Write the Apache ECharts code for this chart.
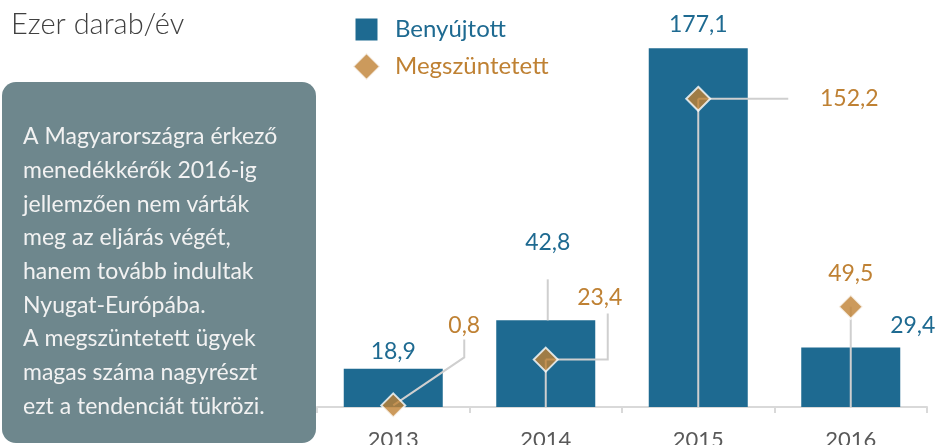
<!DOCTYPE html>
<html>
<head>
<meta charset="utf-8">
<script src="https://cdn.jsdelivr.net/npm/echarts@6/dist/echarts.min.js"></script>
<style>
  html, body { margin: 0; padding: 0; background: #fff; }
  #chart { width: 939px; height: 445px; }
</style>
</head>
<body>
<div id="chart"></div>
<script>
const years = ["2013", "2014", "2015", "2016"];
const benyujtott = [18.9, 42.8, 177.1, 29.4];
const megszuntetett = [0.8, 23.4, 152.2, 49.5];
const noteLines = [
  "A Magyarországra érkező",
  "menedékkérők 2016-ig",
  "jellemzően nem várták",
  "meg az eljárás végét,",
  "hanem tovább indultak",
  "Nyugat-Európába.",
  "A megszüntetett ügyek",
  "magas száma nagyrészt",
  "ezt a tendenciát tükrözi."
];

// label placement (pixels, relative to bar top / diamond centre)
const barLabelPos = [[0, -17], [2, -78], [0, -24], [62, -22]];
const barLeaders = [null, [[2, 0], [2, -41]], null, null];
const dotLabelPos = [[71, -80], [54, -62], [151, 0], [0, -33]];
const dotLeaders = [[[0, 0], [71, -48], [71, -66]], [[0, 0], [62, 0], [62, -46]], [[0, 0], [90, 0]], null];

const BLUE = "#1e6a91";
const ORANGE = "#bf8133";
const LINE = "#cfcfcf";
const FONT = "Lato";

const fmt = (v) => v.toFixed(1).replace(".", ",");

const chart = echarts.init(document.getElementById("chart"));

const shift = (p, pts) => pts.map((d) => [p[0] + d[0], p[1] + d[1]]);

const option = {
  animation: false,
  title: {
    text: "Ezer darab/év",
    left: 6,
    top: 5,
    textStyle: { fontFamily: FONT, fontSize: 29, fontWeight: 300, color: "#404040" },
  },
  legend: {
    orient: "vertical",
    left: 347,
    top: 11,
    itemWidth: 27,
    itemHeight: 27,
    itemGap: 9,
    textStyle: { fontFamily: FONT, fontSize: 24, padding: [0, 0, 0, 10] },
    data: [
      {
        name: "Benyújtott",
        // square drawn smaller than the diamond
        icon: "path://M0,0M27,27M2.5,2.5L24.5,2.5L24.5,24.5L2.5,24.5Z",
        textStyle: { color: BLUE },
      },
      { name: "Megszüntetett", icon: "diamond", textStyle: { color: ORANGE } },
    ],
  },
  grid: { left: 317, right: 12, top: 2, bottom: 38, outerBoundsMode: "none" },
  xAxis: {
    type: "category",
    data: years,
    axisLine: { lineStyle: { color: "#d9d9d9", width: 2 } },
    axisTick: { show: true, length: 6, lineStyle: { color: "#d9d9d9", width: 2 } },
    axisLabel: { fontFamily: FONT, fontSize: 22, color: "#595959", margin: 22 },
  },
  yAxis: {
    type: "value",
    min: 0,
    max: 200,
    show: false,
    splitLine: { show: false },
  },
  graphic: [
    {
      type: "rect",
      shape: { x: 2, y: 82, width: 314, height: 361, r: 14 },
      style: { fill: "#6e878d" },
      z: 0,
    },
    {
      type: "text",
      x: 23,
      y: 120,
      style: {
        text: noteLines.join("\n"),
        font: "23px " + FONT,
        lineHeight: 33.7,
        fill: "#f2f2f2",
        verticalAlign: "top",
      },
      z: 1,
    },
  ],
  series: [
    {
      name: "Benyújtott",
      type: "bar",
      data: benyujtott,
      barWidth: 99,
      itemStyle: { color: BLUE },
      z: 1,
    },
    {
      name: "leaders",
      type: "custom",
      z: 2,
      silent: true,
      data: years.map((y, i) => [i, benyujtott[i], megszuntetett[i]]),
      renderItem: function (params, api) {
        const i = api.value(0);
        const top = api.coord([i, api.value(1)]);
        const dot = api.coord([i, api.value(2)]);
        const base = api.coord([i, 0]);
        const children = [];
        if (base[1] - dot[1] > 4) {
          children.push({
            type: "line",
            shape: { x1: dot[0], y1: dot[1], x2: base[0], y2: base[1] },
            style: { stroke: LINE, lineWidth: 2 },
          });
        }
        if (barLeaders[i]) {
          children.push({
            type: "polyline",
            shape: { points: shift(top, barLeaders[i]) },
            style: { stroke: LINE, lineWidth: 2, fill: null },
          });
        }
        if (dotLeaders[i]) {
          children.push({
            type: "polyline",
            shape: { points: shift(dot, dotLeaders[i]) },
            style: { stroke: LINE, lineWidth: 2, fill: null },
          });
        }
        children.push({
          type: "text",
          style: {
            text: fmt(api.value(1)),
            x: top[0] + barLabelPos[i][0],
            y: top[1] + barLabelPos[i][1],
            align: "center",
            verticalAlign: "middle",
            font: "23px " + FONT,
            fill: BLUE,
          },
        });
        children.push({
          type: "text",
          style: {
            text: fmt(api.value(2)),
            x: dot[0] + dotLabelPos[i][0],
            y: dot[1] + dotLabelPos[i][1],
            align: "center",
            verticalAlign: "middle",
            font: "23px " + FONT,
            fill: ORANGE,
          },
        });
        return { type: "group", children: children };
      },
    },
    {
      name: "Megszüntetett",
      type: "scatter",
      data: megszuntetett,
      symbol: "diamond",
      symbolSize: 24,
      clip: false,
      itemStyle: { color: ORANGE, borderColor: "#fff", borderWidth: 2 },
      z: 3,
    },
  ],
};

chart.setOption(option);
</script>
</body>
</html>
